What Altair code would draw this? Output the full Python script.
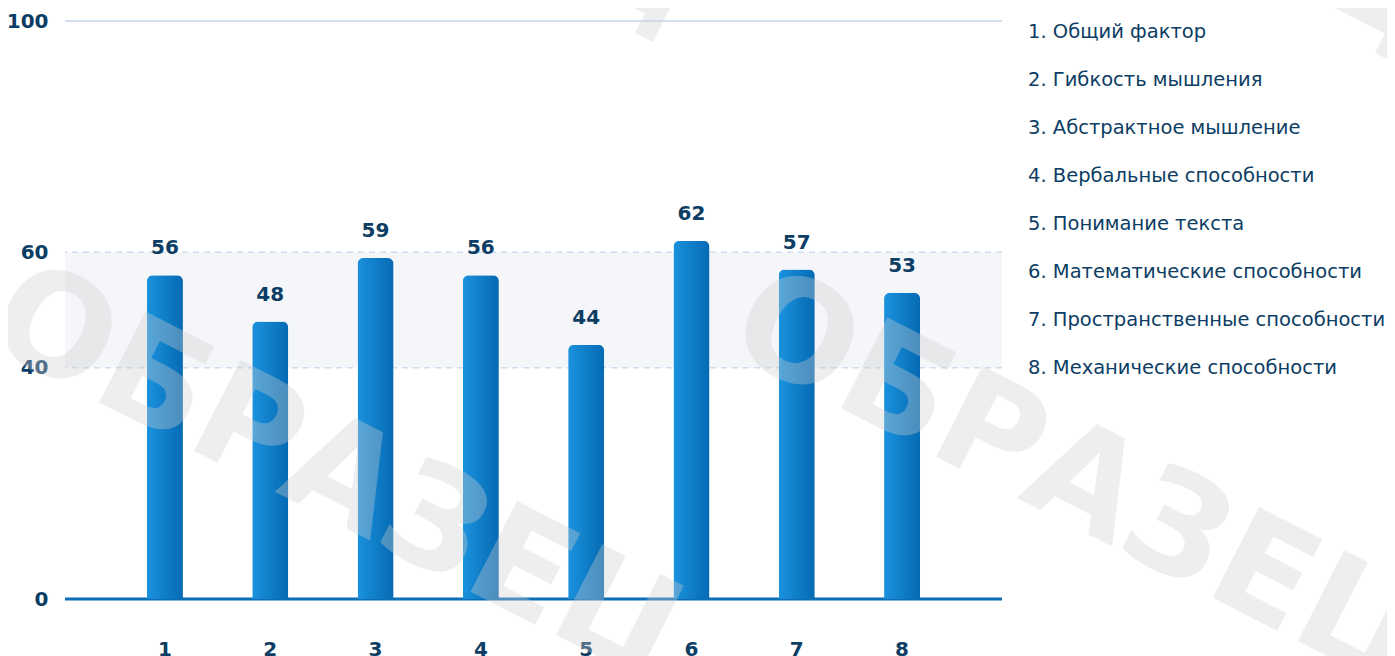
import altair as alt
import pandas as pd

categories = ["1", "2", "3", "4", "5", "6", "7", "8"]
values = [56, 48, 59, 56, 44, 62, 57, 53]
legend_labels = [
    "1. Общий фактор",
    "2. Гибкость мышления",
    "3. Абстрактное мышление",
    "4. Вербальные способности",
    "5. Понимание текста",
    "6. Математические способности",
    "7. Пространственные способности",
    "8. Механические способности",
]
y_ticks = [0, 40, 60, 100]
norm_low = [40]
norm_high = [60]
dashed_lines = [40, 60]
top_line = [100]
watermark_word = "ОБРАЗЕЦ"

TEXT = "#0c3d64"
FONT = "DejaVu Sans"

bars_df = pd.DataFrame({"cat": categories, "val": values})
legend_df = pd.DataFrame({"idx": list(range(len(legend_labels))), "label": legend_labels})
band_df = pd.DataFrame({"lo": norm_low, "hi": norm_high})
dash_df = pd.DataFrame({"v": dashed_lines})
top_df = pd.DataFrame({"v": top_line})
zero_df = pd.DataFrame({"v": [0]})

yscale = alt.Scale(domain=[0, 100], nice=False)
xscale = alt.Scale(paddingInner=0.658, paddingOuter=0.778)

band = alt.Chart(band_df).mark_rect(color="#f5f6f9").encode(
    y=alt.Y("lo:Q", scale=yscale,
            axis=alt.Axis(values=y_ticks, grid=False, domain=False, ticks=False,
                          labelFont=FONT, labelFontSize=20, labelFontWeight="bold",
                          labelColor=TEXT, labelPadding=17, title=None)),
    y2="hi:Q",
)

dashes = alt.Chart(dash_df).mark_rule(color="#cddcf0", strokeWidth=1.5, strokeDash=[6, 5]).encode(
    y=alt.Y("v:Q", scale=yscale)
)
top_rule = alt.Chart(top_df).mark_rule(color="#d3dff0", strokeWidth=2).encode(
    y=alt.Y("v:Q", scale=yscale)
)
zero_rule = alt.Chart(zero_df).mark_rule(color="#0a6db6", strokeWidth=3).encode(
    y=alt.Y("v:Q", scale=yscale)
)

gradient = {
    "gradient": "linear", "x1": 0, "x2": 1, "y1": 0, "y2": 0,
    "stops": [{"offset": 0, "color": "#1b92de"}, {"offset": 1, "color": "#056ab3"}],
}

bars = alt.Chart(bars_df).mark_bar(
    color=gradient, cornerRadiusTopLeft=6, cornerRadiusTopRight=6
).encode(
    x=alt.X("cat:N", scale=xscale, sort=categories,
            axis=alt.Axis(labelAngle=0, domain=False, ticks=False, title=None,
                          labelFont=FONT, labelFontSize=20, labelFontWeight="bold",
                          labelColor=TEXT, labelPadding=40)),
    y=alt.Y("val:Q", scale=yscale),
)

labels = alt.Chart(bars_df).mark_text(
    font=FONT, fontSize=20, fontWeight="bold", color=TEXT, baseline="alphabetic", dy=-21
).encode(
    x=alt.X("cat:N", scale=xscale, sort=categories),
    y=alt.Y("val:Q", scale=yscale),
    text="val:Q",
)

main = alt.layer(band, dashes, top_rule, zero_rule, bars, labels)

legend = alt.Chart(legend_df).mark_text(
    font=FONT, fontSize=19.5, color=TEXT, align="left", baseline="middle"
).encode(
    x=alt.value(963),
    y=alt.Y("idx:O", scale=alt.Scale(type="point", range=[11, 347], padding=0), axis=None),
    text="label:N",
)

wm_df = pd.DataFrame({"w": [watermark_word]})
wm_pos = [(275, 457), (1017, 463), (285, -205), (1025, -185)]
wm_layers = [
    alt.Chart(wm_df).mark_text(
        font=FONT, fontSize=140, fontWeight="bold", color="#cfcfcf", opacity=0.35,
        angle=27, align="center", baseline="middle"
    ).encode(x=alt.value(px), y=alt.value(py), text="w:N")
    for px, py in wm_pos
]

chart = alt.layer(main, legend, *wm_layers).resolve_scale(y="independent").properties(
    width=937, height=578,
    autosize=alt.AutoSizeParams(type="none"),
    padding={"left": 57, "top": 13, "right": 385, "bottom": 75},
).configure_view(stroke=None)

chart.save("out.html", embed_options={"renderer": "svg", "actions": False})
